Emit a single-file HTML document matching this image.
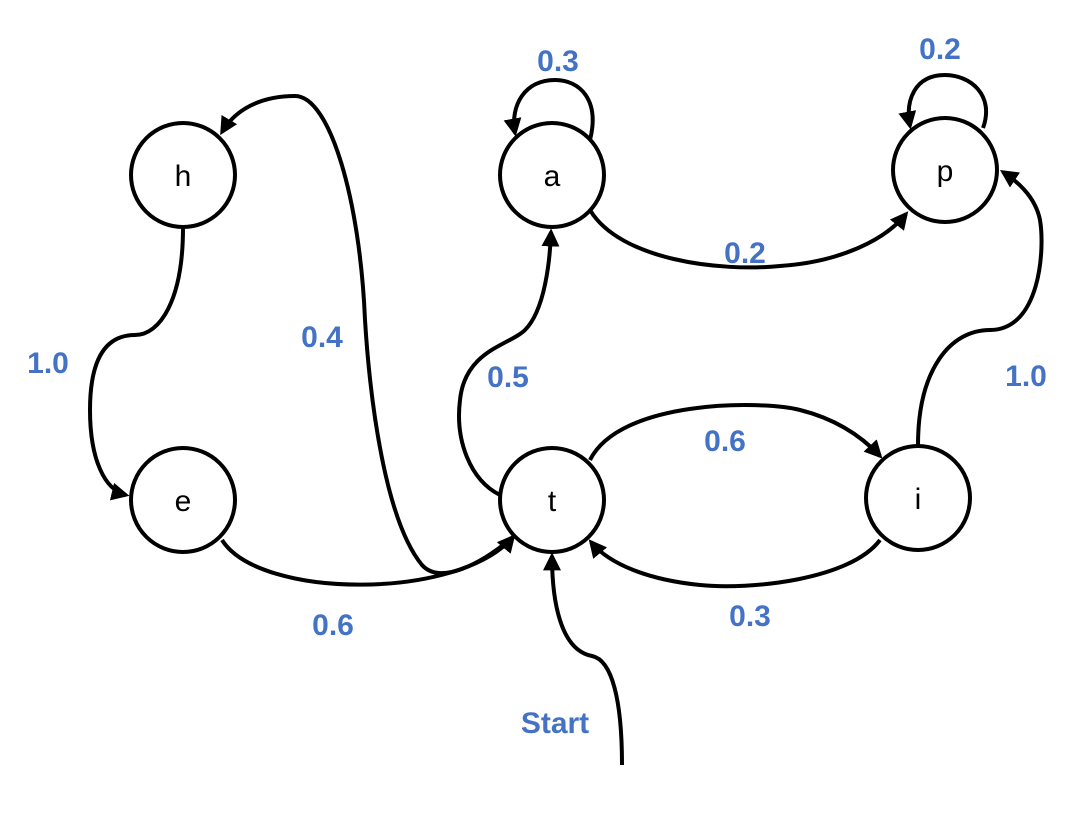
<!DOCTYPE html>
<html><head><meta charset="utf-8"><style>
html,body{margin:0;padding:0;background:#fff;}
svg{display:block;}
.n{font-family:"Liberation Sans",sans-serif;font-size:30px;fill:#000;}
.l{font-family:"Liberation Sans",sans-serif;font-size:30px;font-weight:bold;fill:#4472C4;}
</style></head><body>
<svg width="1076" height="816" viewBox="0 0 1076 816" xmlns="http://www.w3.org/2000/svg">
<defs>
<marker id="ar" viewBox="0 0 10 10" refX="8" refY="5" markerWidth="4.5" markerHeight="4.5" orient="auto-start-reverse" markerUnits="strokeWidth">
<path d="M0,0 L10,5 L0,10 z" fill="#000"/>
</marker>
</defs>
<g fill="none" stroke="#000" stroke-width="4" marker-end="url(#ar)">
<path d="M183,228 C183,300 160,335 135,335 C95,335 90,380 90,410 C90,460 105,490 126,495"/>
<path d="M222,540 C260,600 460,600 513,537"/>
<path d="M513,537 C480,565 440,585 422,565 C385,520 370,400 365,320 C360,200 330,96 295,96 C260,96 235,110 222,132"/>
<path d="M500,495 C470,480 455,440 460,400 C465,350 510,345 525,330 C545,310 550,260 551,232"/>
<path d="M590,140 C600,100 580,80 555,80 C525,80 510,105 515,133"/>
<path d="M983,128 C995,95 970,75 945,75 C915,75 905,100 910,126"/>
<path d="M590,210 C620,260 720,272 780,266 C840,262 885,240 906,214"/>
<path d="M918,445 C918,370 950,330 990,330 C1040,330 1045,250 1040,220 C1035,195 1015,180 1003,172"/>
<path d="M590,460 C620,400 760,400 800,410 C840,420 865,440 880,456"/>
<path d="M880,540 C850,580 750,590 700,585 C650,580 610,565 591,542"/>
<path d="M622,765 C622,700 612,660 592,656 C560,650 552,600 552,556"/>
</g>
<g fill="#fff" stroke="#000" stroke-width="4">
<circle cx="183" cy="175" r="52"/>
<circle cx="552" cy="175" r="52"/>
<circle cx="945" cy="170" r="52"/>
<circle cx="183" cy="500" r="52"/>
<circle cx="552" cy="500" r="52"/>
<circle cx="918" cy="498" r="52"/>
</g>
<g class="n" text-anchor="middle">
<text x="183" y="186">h</text>
<text x="552" y="186">a</text>
<text x="945" y="181">p</text>
<text x="183" y="511">e</text>
<text x="552" y="511">t</text>
<text x="918" y="509">i</text>
</g>
<g class="l" text-anchor="middle">
<text x="558" y="71">0.3</text>
<text x="940" y="59">0.2</text>
<text x="745" y="263">0.2</text>
<text x="48" y="373">1.0</text>
<text x="322" y="347">0.4</text>
<text x="508" y="387">0.5</text>
<text x="725" y="451">0.6</text>
<text x="1026" y="386">1.0</text>
<text x="333" y="635">0.6</text>
<text x="750" y="626">0.3</text>
<text x="555" y="733">Start</text>
</g>
</svg>
</body></html>
